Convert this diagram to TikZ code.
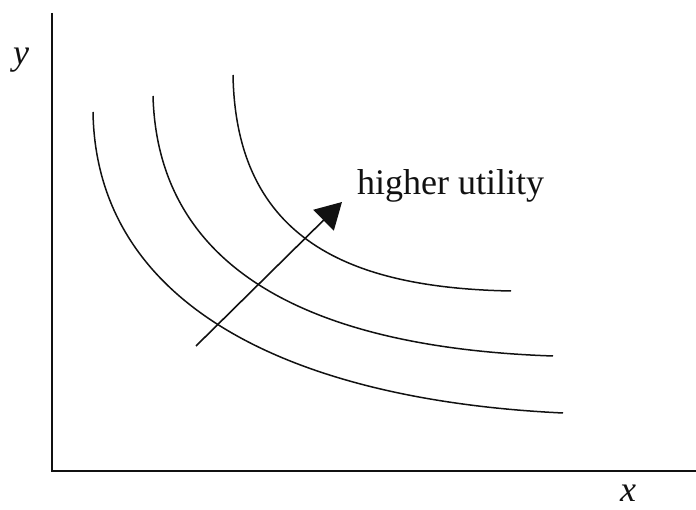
\documentclass[tikz,border=0pt]{standalone}
\usepackage{fontspec}
\setmainfont{Liberation Serif}
\usetikzlibrary{arrows.meta}
\definecolor{ink}{HTML}{111111}
\tikzset{
  % pixel-like units, y pointing down
  axis/.style={line width=2pt, draw=ink},
  icurve/.style={line width=1.5pt, draw=ink},
  uparrow/.style={line width=1.6pt, draw=ink, -{Triangle[length=26pt,width=29pt]}},
  lbl/.style={inner sep=0pt, font=\fontsize{36}{43}\selectfont, text=ink}
}

\begin{document}
\begin{tikzpicture}[x=1pt, y=-1pt]
\useasboundingbox (0,0) rectangle (696,510);

% Axes
\coordinate (top) at (52,13);
\coordinate (origin) at (52,471);
\coordinate (right) at (696,471);
\draw[axis] (top) -- (origin) -- (right);
\node[lbl] (ylab) at (21,60) {\itshape y};
\node[lbl] (xlab) at (628,493) {\itshape x};

% Indifference curves (low to high)
\draw[icurve] (93,112)  .. controls (96,305)  and (290,400) .. (563,413);
\draw[icurve] (153,96)  .. controls (158,275) and (320,348) .. (553,356);
\draw[icurve] (233,75)  .. controls (236,240) and (350,288) .. (511,291);

% Direction of higher utility
\coordinate (from) at (196,346);
\coordinate (to) at (342,202);
\draw[uparrow] (from) -- (to);
\node[lbl, anchor=west] (util) at (357,186) {higher utility};

\end{tikzpicture}
\end{document}
